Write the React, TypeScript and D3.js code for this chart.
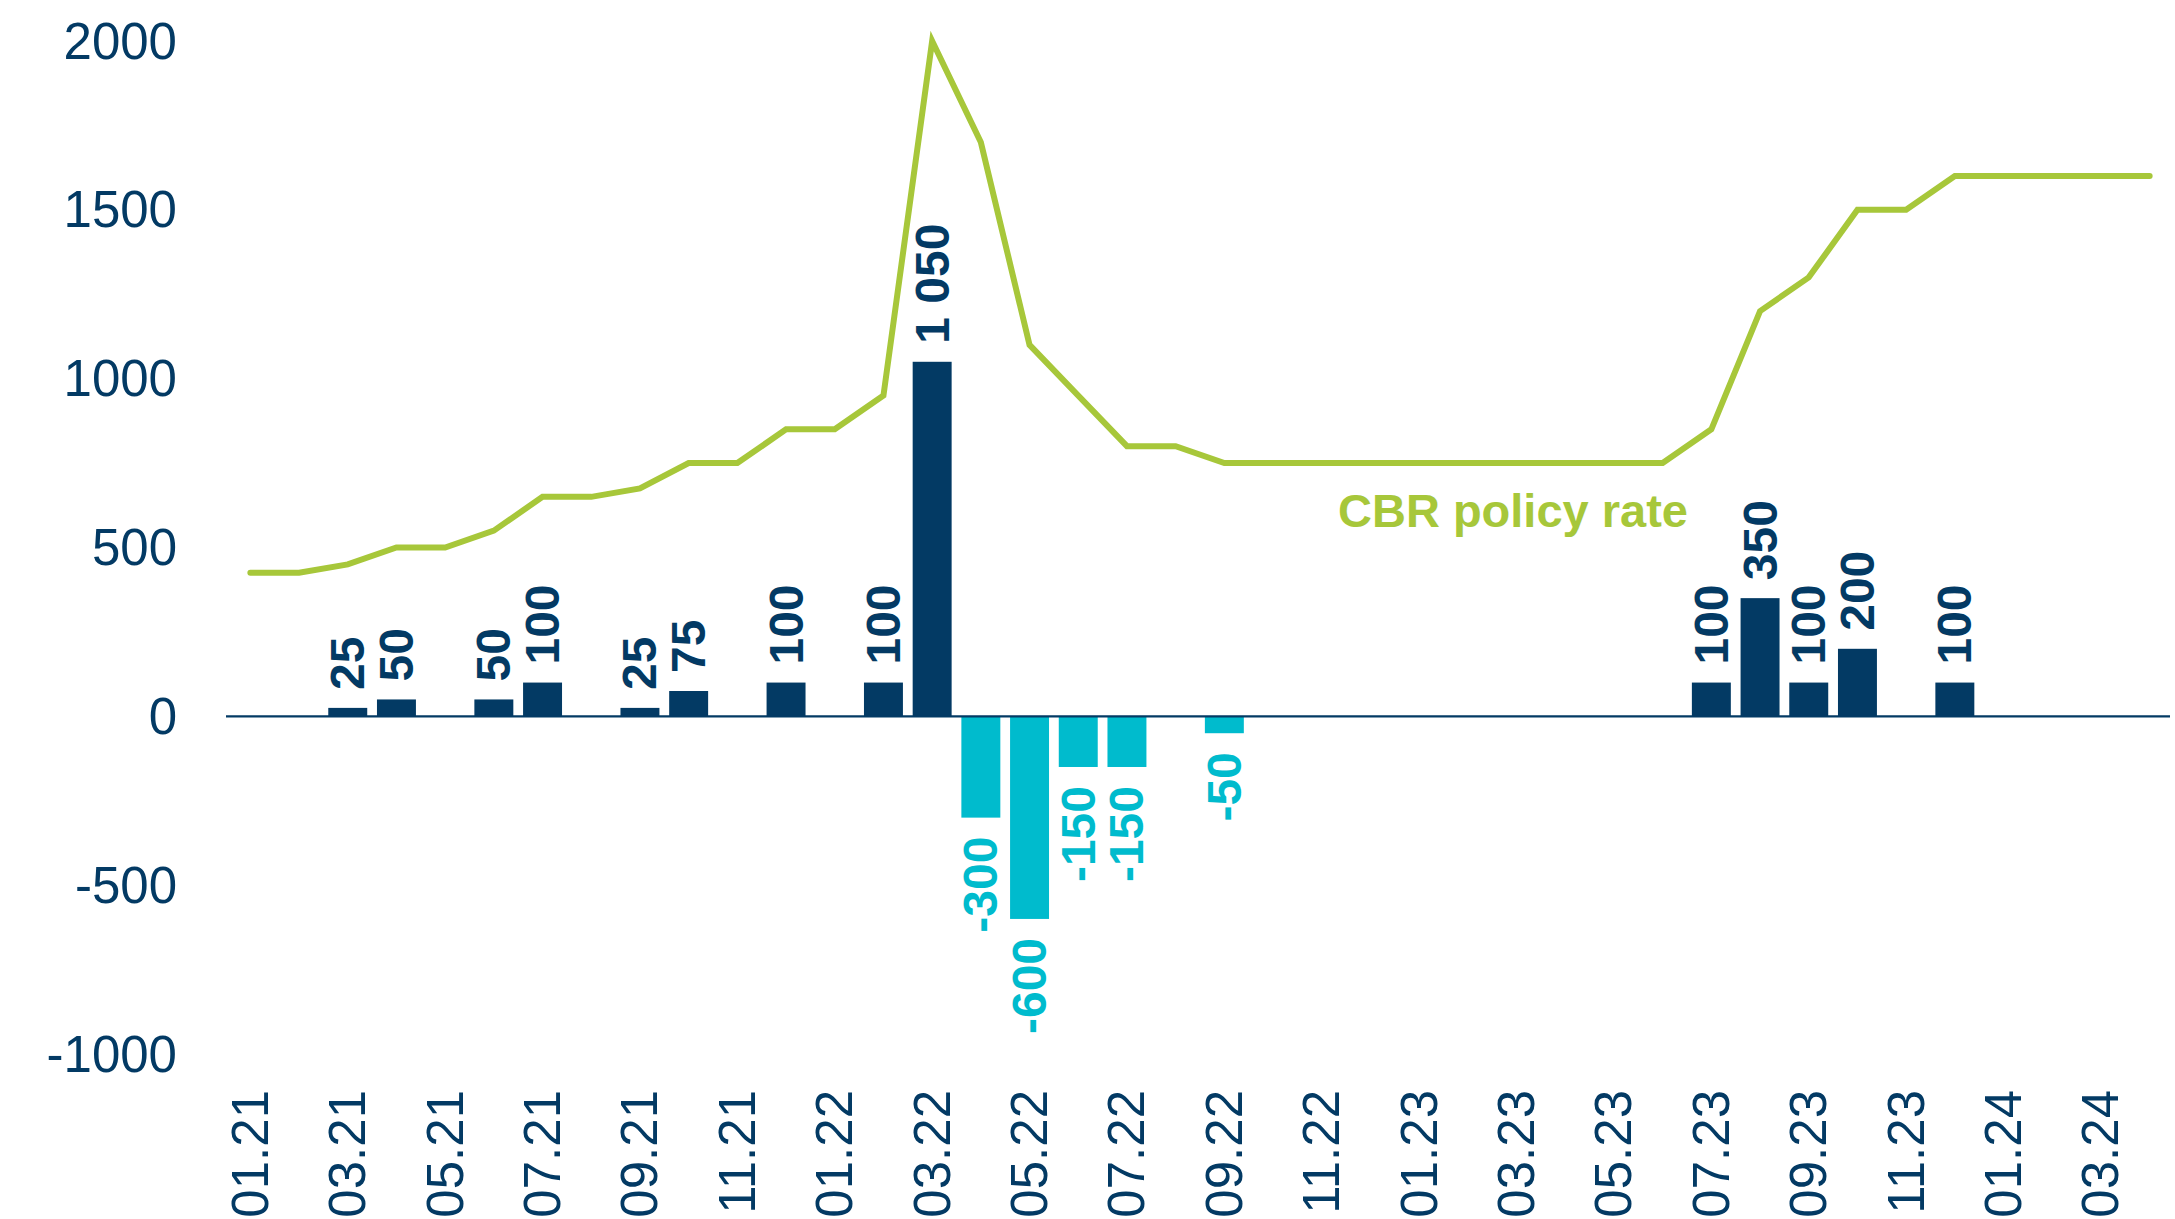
import React, { useEffect, useRef } from "react";
import * as d3 from "d3";

// months on the x axis
const months = [
  "01.21", "02.21", "03.21", "04.21", "05.21", "06.21", "07.21", "08.21", "09.21", "10.21", "11.21", "12.21",
  "01.22", "02.22", "03.22", "04.22", "05.22", "06.22", "07.22", "08.22", "09.22", "10.22", "11.22", "12.22",
  "01.23", "02.23", "03.23", "04.23", "05.23", "06.23", "07.23", "08.23", "09.23", "10.23", "11.23", "12.23",
  "01.24", "02.24", "03.24", "04.24",
];

// CBR policy rate, bps
const policyRate = [
  425, 425, 450, 500, 500, 550, 650, 650, 675, 750, 750, 850,
  850, 950, 2000, 1700, 1100, 950, 800, 800, 750, 750, 750, 750,
  750, 750, 750, 750, 750, 750, 850, 1200, 1300, 1500, 1500, 1600,
  1600, 1600, 1600, 1600,
];

// rate changes, bps
const changeMonths = [
  "03.21", "04.21", "06.21", "07.21", "09.21", "10.21", "12.21", "02.22", "03.22",
  "04.22", "05.22", "06.22", "07.22", "09.22",
  "07.23", "08.23", "09.23", "10.23", "12.23",
];
const changeValues = [
  25, 50, 50, 100, 25, 75, 100, 100, 1050,
  -300, -600, -150, -150, -50,
  100, 350, 100, 200, 100,
];

const yTicks = [-1000, -500, 0, 500, 1000, 1500, 2000];

const NAVY = "#033a64";
const CYAN = "#00bbcd";
const GREEN = "#a7c73a";
const FONT = "'Liberation Sans', Arial, sans-serif";

const fmt = (v: number) => (Math.abs(v) >= 1000 ? d3.format(",")(v).replace(",", " ") : String(v));

export default function App() {
  const ref = useRef<SVGSVGElement>(null);

  useEffect(() => {
    const W = 2175, H = 1219;
    const svg = d3.select(ref.current).attr("width", W).attr("height", H);
    svg.selectAll("*").remove();

    const x = d3.scaleBand().domain(months).range([226, 2174]).paddingInner(0.2).paddingOuter(0.1);
    const y = d3.scaleLinear().domain([-1000, 2000]).range([1054, 41]);
    const cx = (m: string) => (x(m) as number) + x.bandwidth() / 2;

    // y tick labels
    svg.append("g").selectAll("text").data(yTicks).join("text")
      .attr("x", 177).attr("y", d => y(d))
      .attr("text-anchor", "end").attr("dominant-baseline", "central")
      .attr("font-family", FONT).attr("font-size", 51).attr("fill", NAVY)
      .text(d => d);

    // x tick labels, every other month
    svg.append("g").selectAll("text").data(months.filter((_, i) => i % 2 === 0)).join("text")
      .attr("transform", d => `translate(${cx(d)},1090) rotate(-90)`)
      .attr("text-anchor", "end").attr("dominant-baseline", "central")
      .attr("font-family", FONT).attr("font-size", 51).attr("fill", NAVY)
      .text(d => d);

    const bars = changeMonths.map((m, i) => ({ m, v: changeValues[i] }));

    svg.append("g").selectAll("rect").data(bars).join("rect")
      .attr("x", d => x(d.m) as number)
      .attr("width", x.bandwidth())
      .attr("y", d => y(Math.max(0, d.v)))
      .attr("height", d => Math.abs(y(d.v) - y(0)))
      .attr("fill", d => (d.v >= 0 ? NAVY : CYAN));

    // bar value labels
    svg.append("g").selectAll("text").data(bars).join("text")
      .attr("transform", d => `translate(${cx(d.m)},${d.v >= 0 ? y(d.v) - 18 : y(d.v) + 19}) rotate(-90)`)
      .attr("text-anchor", d => (d.v >= 0 ? "start" : "end"))
      .attr("dominant-baseline", "central")
      .attr("font-family", FONT).attr("font-size", 48).attr("font-weight", "bold")
      .attr("fill", d => (d.v >= 0 ? NAVY : CYAN))
      .text(d => fmt(d.v));

    // zero line
    svg.append("line")
      .attr("x1", 226).attr("x2", 2170).attr("y1", y(0)).attr("y2", y(0))
      .attr("stroke", NAVY).attr("stroke-width", 2.2);

    // policy rate line
    const line = d3.line<number>().x((_, i) => cx(months[i])).y(d => y(d));
    svg.append("path").datum(policyRate)
      .attr("d", line)
      .attr("fill", "none").attr("stroke", GREEN).attr("stroke-width", 6)
      .attr("stroke-linecap", "round").attr("stroke-linejoin", "miter");

    svg.append("text")
      .attr("x", 1338).attr("y", 510).attr("dominant-baseline", "central")
      .attr("font-family", FONT).attr("font-size", 47).attr("font-weight", "bold").attr("fill", GREEN)
      .text("CBR policy rate");
  }, []);

  return <svg ref={ref} style={{ position: "absolute", left: 0, top: 0, background: "#fff" }} />;
}
